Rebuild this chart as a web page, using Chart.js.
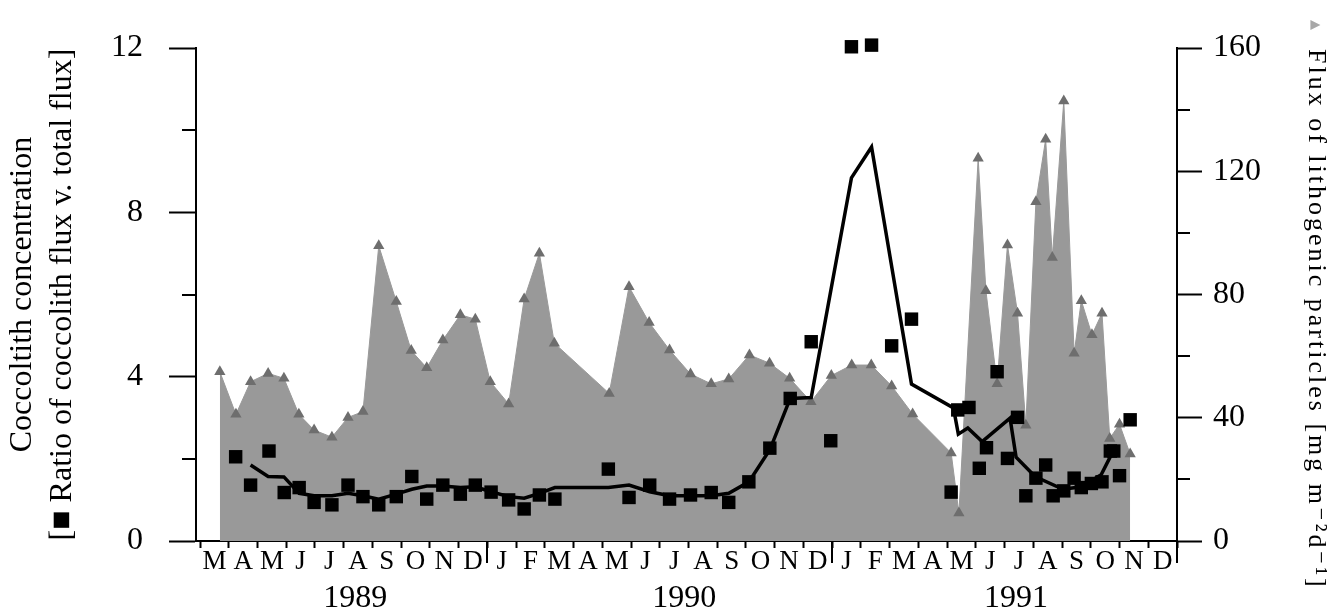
<!DOCTYPE html>
<html>
<head>
<meta charset="utf-8">
<title>Coccolith concentration and lithogenic flux</title>
<script src="https://cdn.jsdelivr.net/npm/chart.js@4.4.1/dist/chart.umd.min.js"></script>
<style>
  html, body { margin: 0; padding: 0; background: #ffffff; }
  #wrap { width: 1335px; height: 615px; position: relative; }
</style>
</head>
<body>
<div id="wrap"><canvas id="chart" width="1335" height="615"></canvas></div>
<script>
// Time axis: months counted from 1 March 1989 (0) to 1 January 1992 (34)
const monthLabels = ['M','A','M','J','J','A','S','O','N','D',
                     'J','F','M','A','M','J','J','A','S','O','N','D',
                     'J','F','M','A','M','J','J','A','S','O','N','D'];
const yearLabels = ['1989', '1990', '1991'];
const yearBreaks = [10, 22, 34];

// Flux of lithogenic particles (mg m-2 d-1), right axis
const fluxMonths = [0.69,1.25,1.76,2.37,2.92,3.44,3.97,4.59,5.15,5.67,6.22,6.83,7.35,7.89,8.45,9.06,9.58,10.10,10.74,11.28,11.81,12.33,
                    14.24,14.93,15.63,16.34,17.07,17.79,18.40,19.12,19.82,20.52,21.26,21.97,22.68,23.36,24.07,24.80,26.14,26.41,
                    27.08,27.35,27.74,28.10,28.45,28.74,29.09,29.43,29.66,30.06,30.42,30.67,31.04,31.39,31.66,32.00,32.37];
const fluxValues = [54.9,41.1,51.7,54.4,52.8,41.1,36.0,33.7,40.1,42.0,95.8,77.7,61.8,56.2,65.2,73.4,72.0,51.7,44.5,78.5,93.4,64.2,
                    47.9,82.5,70.9,62.0,54.2,51.0,52.6,60.4,57.7,52.8,45.2,53.7,57.1,57.1,50.3,41.2,28.6,9.1,
                    124.2,81.2,51.0,96.1,73.9,37.6,110.1,130.4,92.0,142.8,60.9,78.0,66.9,73.9,33.3,37.9,28.2];

// Ratio of coccolith flux v. total flux, left axis
const ratioMonths = [1.24,1.76,2.40,2.93,3.45,3.97,4.59,5.15,5.67,6.22,6.83,7.37,7.89,8.45,9.06,9.58,10.13,10.74,11.28,11.81,12.35,
                     14.21,14.93,15.65,16.34,17.07,17.79,18.40,19.10,19.83,20.54,21.27,21.95,22.67,23.37,24.07,24.76,
                     26.14,26.37,26.76,27.12,27.37,27.74,28.10,28.45,28.74,29.09,29.43,29.69,30.06,30.42,30.67,31.02,31.39,
                     31.68,31.80,32.00,32.37];
const ratioValues = [2.05,1.36,2.19,1.18,1.30,0.94,0.88,1.36,1.08,0.88,1.08,1.57,1.02,1.36,1.14,1.36,1.19,1.00,0.78,1.12,1.02,
                     1.75,1.06,1.36,1.02,1.12,1.18,0.94,1.44,2.26,3.47,4.85,2.44,12.03,12.07,4.75,5.40,
                     1.19,3.19,3.25,1.77,2.27,4.12,2.01,3.01,1.10,1.53,1.85,1.10,1.22,1.53,1.30,1.40,1.44,
                     2.19,2.19,1.59,2.95];

// Running mean of the ratio, left axis
const meanMonths = [1.76,2.37,2.92,3.45,3.97,4.59,5.15,5.67,6.22,6.83,7.37,7.89,8.45,9.06,9.58,10.13,10.74,11.28,11.81,12.35,
                    14.21,14.93,15.65,16.34,17.07,17.79,18.40,19.10,19.83,20.54,21.27,22.67,23.37,24.76,26.22,26.39,26.72,
                    27.22,28.19,28.40,29.06,30.03,30.67,31.36,31.83];
const meanValues = [1.85,1.57,1.56,1.16,1.10,1.10,1.16,1.10,1.02,1.14,1.26,1.34,1.34,1.30,1.32,1.20,1.08,1.04,1.16,1.30,
                    1.30,1.36,1.20,1.10,1.10,1.10,1.16,1.44,2.22,3.47,3.49,8.84,9.59,3.82,3.24,2.60,2.75,
                    2.42,2.99,2.04,1.57,1.26,1.32,1.61,2.26];

const leftTitle = ['Coccoltith concentration', '[\u25A0 Ratio of coccolith flux v. total flux]'];
const rightTitle = 'Flux of lithogenic particles [mg m\u207B\u00B2d\u207B\u00B9]';

const SERIF = '"Liberation Serif", "DejaVu Serif", serif';
const pairs = (xs, ys) => xs.map((x, i) => ({ x, y: ys[i] }));

// Minor ticks, year-boundary ticks and the right-hand axis caption
const axisExtras = {
  id: 'axisExtras',
  afterDraw(chart) {
    const { ctx, chartArea: a, scales } = chart;
    const { x, y, y1 } = scales;
    ctx.save();
    ctx.strokeStyle = '#000';
    ctx.lineWidth = 2;
    ctx.beginPath();
    [2, 6, 10].forEach(v => {
      const py = Math.round(y.getPixelForValue(v));
      ctx.moveTo(a.left - 14, py); ctx.lineTo(a.left, py);
    });
    [20, 60, 100, 140].forEach(v => {
      const py = Math.round(y1.getPixelForValue(v));
      ctx.moveTo(a.right, py); ctx.lineTo(a.right + 13, py);
    });
    yearBreaks.forEach(v => {
      const px = Math.round(x.getPixelForValue(v));
      ctx.moveTo(px, a.bottom); ctx.lineTo(px, a.bottom + 22);
    });
    ctx.stroke();

    // caption of the right axis, read top to bottom
    ctx.translate(chart.width - 19, a.top + 1);
    ctx.rotate(Math.PI / 2);
    ctx.textBaseline = 'middle';
    ctx.textAlign = 'left';
    ctx.fillStyle = '#000';
    ctx.font = '26px ' + SERIF;
    if ('letterSpacing' in ctx) ctx.letterSpacing = '3px';
    ctx.fillText(rightTitle, 0, 0);
    if ('letterSpacing' in ctx) ctx.letterSpacing = '0px';
    ctx.fillStyle = '#a8a8a8';
    ctx.font = '13px "DejaVu Sans"';
    ctx.textAlign = 'center';
    ctx.fillText('\u25B2', -24, 1);
    ctx.restore();
  }
};

new Chart(document.getElementById('chart'), {
  type: 'line',
  data: {
    datasets: [
      {
        label: 'Ratio of coccolith flux v. total flux',
        data: pairs(ratioMonths, ratioValues),
        xAxisID: 'x', yAxisID: 'y',
        showLine: false,
        pointStyle: 'rect',
        pointRadius: 9.5,
        pointBackgroundColor: '#000',
        pointBorderColor: '#000',
        pointBorderWidth: 0,
        clip: false,
        order: 1
      },
      {
        label: 'Coccolith concentration',
        data: pairs(meanMonths, meanValues),
        xAxisID: 'x', yAxisID: 'y',
        borderColor: '#000',
        borderWidth: 3.5,
        pointRadius: 0,
        fill: false,
        tension: 0,
        order: 2
      },
      {
        label: 'Flux of lithogenic particles',
        data: pairs(fluxMonths, fluxValues),
        xAxisID: 'x', yAxisID: 'y1',
        fill: 'origin',
        backgroundColor: '#999999',
        borderColor: '#999999',
        borderWidth: 1,
        tension: 0,
        pointStyle: 'triangle',
        pointRadius: 6.5,
        pointBackgroundColor: '#6e6e6e',
        pointBorderColor: '#6e6e6e',
        pointBorderWidth: 0,
        order: 3
      }
    ]
  },
  options: {
    responsive: false,
    animation: false,
    events: [],
    layout: { padding: { top: 48, left: 0, right: 0, bottom: 0 } },
    plugins: { legend: { display: false }, tooltip: { enabled: false } },
    scales: {
      x: {
        type: 'linear', position: 'bottom', min: -0.14, max: 34,
        afterBuildTicks: s => { s.ticks = monthLabels.concat(['']).map((_, i) => ({ value: i })); },
        afterFit: s => { s.height = 40; },
        ticks: {
          autoSkip: false, maxRotation: 0, minRotation: 0,
          labelOffset: 14.4, padding: 0, color: '#000',
          font: { family: SERIF, size: 27, lineHeight: 1 },
          callback: (v, i) => monthLabels[i] ?? ''
        },
        grid: { drawOnChartArea: false, drawTicks: true, tickLength: 7, tickWidth: 2, tickColor: '#000' },
        border: { display: true, color: '#000', width: 2 }
      },
      xYear: {
        type: 'linear', position: 'bottom', min: -0.14, max: 34,
        afterBuildTicks: s => { s.ticks = [5.4, 16.85, 28.4].map(value => ({ value })); },
        afterFit: s => { s.height = 34; },
        ticks: {
          autoSkip: false, maxRotation: 0, minRotation: 0, padding: 2, color: '#000',
          font: { family: SERIF, size: 32, lineHeight: 1 },
          callback: (v, i) => yearLabels[i] ?? ''
        },
        grid: { display: false, drawTicks: false },
        border: { display: false }
      },
      y: {
        type: 'linear', position: 'left', min: 0, max: 12,
        afterFit: s => { s.width = 196; },
        ticks: { stepSize: 4, padding: 26, color: '#000', font: { family: SERIF, size: 32 } },
        grid: { drawOnChartArea: false, tickLength: 27, tickWidth: 2, tickColor: '#000' },
        border: { display: true, color: '#000', width: 2 },
        title: {
          display: true, text: leftTitle, color: '#000',
          font: { family: SERIF, size: 32, lineHeight: 1.27 },
          padding: { top: 2, bottom: 0 }
        }
      },
      y1: {
        type: 'linear', position: 'right', min: 0, max: 160,
        afterFit: s => { s.width = 158; },
        ticks: { stepSize: 40, padding: 11, color: '#000', font: { family: SERIF, size: 32 } },
        grid: { drawOnChartArea: false, tickLength: 25, tickWidth: 2, tickColor: '#000' },
        border: { display: true, color: '#000', width: 2 }
      }
    }
  },
  plugins: [axisExtras]
});
</script>
</body>
</html>
